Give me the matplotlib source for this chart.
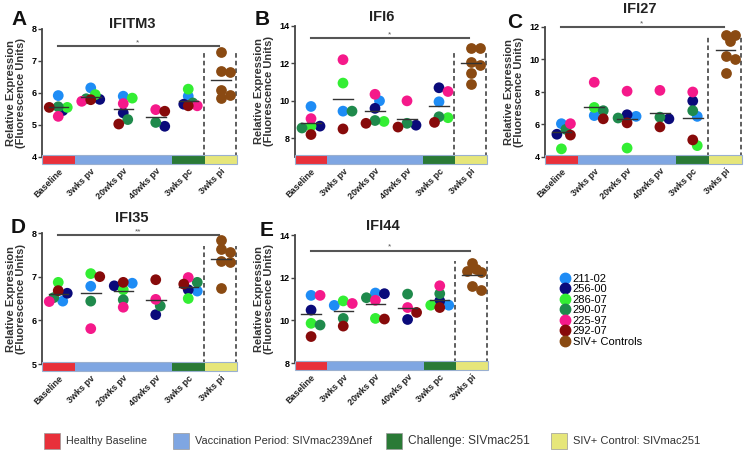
import numpy as np
import matplotlib.pyplot as plt
from matplotlib.patches import Rectangle
from matplotlib.lines import Line2D

plt.rcParams['font.family'] = ['Liberation Sans', 'DejaVu Sans']

# categories
groups = ['Baseline', '3wks pv', '20wks pv', '40wks pv', '3wks pc', '3wks pi']
animals = ['211-02', '256-00', '286-07', '290-07', '225-97', '292-07']
animal_colors = ['#1e8cf5', '#0a0a7a', '#33ee33', '#1f8a4c', '#f5198a', '#870a0a']
control_color = '#8a4a12'
nan = np.nan

# rows = animals, cols = first five groups
ifitm3 = [[5.92, 6.16, 5.90, nan, 5.90],
          [5.45, 5.80, 5.38, 4.96, 5.65],
          [5.55, 5.95, 5.84, nan, 6.12],
          [5.57, 5.82, 5.17, 5.08, 5.69],
          [5.27, 5.74, 5.67, 5.48, 5.60],
          [5.55, 5.79, 5.03, 5.43, 5.60]]
ifitm3_ctrl = [7.28, 6.70, 6.65, 6.10, 5.95, 5.83]

ifi6 = [[9.70, 9.45, 10.00, nan, 9.95],
        [8.65, nan, 9.60, 8.70, 10.70],
        [8.65, 10.95, 8.90, nan, 9.10],
        [8.55, 9.45, 8.95, 8.80, 9.15],
        [9.05, 12.20, 10.35, 10.00, 10.50],
        [8.20, 8.50, 8.80, 8.60, 8.85]]
ifi6_ctrl = [12.80, 12.85, 12.05, 11.90, 11.50, 10.90]

ifi27 = [[6.05, 6.55, 6.50, nan, 6.50],
         [5.40, nan, 6.60, 6.35, 7.45],
         [4.50, 7.05, 4.55, nan, 4.70],
         [5.70, 6.85, 6.40, 6.45, 6.85],
         [6.05, 8.60, 8.05, 8.10, 8.00],
         [5.35, 6.35, 6.10, 5.85, 5.05]]
ifi27_ctrl = [11.50, 11.50, 11.15, 10.20, 10.00, 9.15]

ifi35 = [[6.44, 6.78, 6.85, nan, 6.67],
         [6.62, nan, 6.79, 6.13, 6.70],
         [6.87, 7.07, 6.70, nan, 6.50],
         [6.52, 6.44, 6.47, 6.33, 6.87],
         [6.43, 5.81, 6.30, 6.48, 6.98],
         [6.68, 7.00, 6.87, 6.93, 6.83]]
ifi35_ctrl = [7.84, 7.63, 7.56, 7.37, 7.33, 6.73]

ifi44 = [[11.17, 10.70, 11.28, nan, 10.71],
         [10.48, nan, 11.25, 10.04, 10.91],
         [9.86, 10.91, 10.09, nan, 10.71],
         [9.78, 10.09, 11.06, 11.23, 11.25],
         [11.17, 10.79, 10.94, 10.60, 11.62],
         [9.24, 9.73, 10.06, 10.37, 10.60]]
ifi44_ctrl = [12.70, 12.41, 12.33, 12.25, 11.59, 11.40]

genes = ['IFITM3', 'IFI6', 'IFI27', 'IFI35', 'IFI44']
letters = ['A', 'B', 'C', 'D', 'E']
stars = ['*', '*', '*', '**', '*']
ylims = [(4, 8), (7, 14), (4, 12), (5, 8), (8, 14)]
yticks = [[4, 5, 6, 7, 8], [8, 10, 12, 14], [4, 6, 8, 10, 12], [5, 6, 7, 8], [8, 10, 12, 14]]
sig_y = [7.47, 13.34, 12.0, 7.95, 13.26]
dash_top = [7.3, 12.6, 11.5, 7.7, 12.8]
panel_data = [ifitm3, ifi6, ifi27, ifi35, ifi44]
panel_ctrl = [ifitm3_ctrl, ifi6_ctrl, ifi27_ctrl, ifi35_ctrl, ifi44_ctrl]

band_colors = ['#e8303a', '#7fa6e2', '#7fa6e2', '#7fa6e2', '#2a7a36', '#e6e67a']
legend_labels = ['Healthy Baseline', 'Vaccination Period: SIVmac239\u0394nef',
                 'Challenge: SIVmac251', 'SIV+ Control: SIVmac251']
legend_colors = ['#e8303a', '#7fa6e2', '#2a7a36', '#e6e67a']

W, H = 750, 461
fig = plt.figure(figsize=(W / 100, H / 100), dpi=100)

# axes boxes in pixels: left, top, right, bottom
boxes = [(42, 29, 237, 157), (295, 26, 487, 157), (545, 27, 742, 157),
         (42, 233, 237, 364), (295, 235, 488, 363)]
title_pos = [(132, 24), (382, 17), (640, 9), (132, 218), (383, 226)]
letter_pos = [(11, 25), (255, 25), (507, 28), (11, 233), (260, 236)]


def swarm(vals, ppx, ppy, d=7.0):
    # small beeswarm dodge, offsets in data units
    vals = np.asarray(vals, float)
    offs = np.zeros(len(vals))
    placed = []
    cands = [0, 4.5, -4.5, 9, -9]
    for i in np.argsort(-vals):
        best, best_d = 0, -1
        for c in cands:
            md = min([np.hypot(c - a, (vals[i] - b) * ppy) for a, b in placed] + [99])
            if md >= d:
                best = c
                break
            if md > best_d:
                best, best_d = c, md
        offs[i] = best / ppx
        placed.append((best, vals[i]))
    return offs


for k in range(5):
    l, t, r, b = boxes[k]
    ax = fig.add_axes([l / W, 1 - b / H, (r - l) / W, (b - t) / H])
    y0, y1 = ylims[k]
    ax.set_xlim(-0.5, 5.5)
    ax.set_ylim(y0, y1)
    ppx = (r - l) / 6.0
    ppy = (b - t) / (y1 - y0)
    data = np.array(panel_data[k], float)

    for g in range(5):
        col = data[:, g]
        ok = ~np.isnan(col)
        offs = swarm(col[ok], ppx, ppy)
        cols = [c for c, o in zip(animal_colors, ok) if o]
        ax.scatter(g + offs, col[ok], s=60, c=cols, zorder=3, linewidths=0)
        m = col[ok].mean()
        ax.plot([g - 0.3, g + 0.3], [m, m], color='#333333', lw=1.0, zorder=4)

    ctrl = np.array(panel_ctrl[k], float)
    offs = swarm(ctrl, ppx, ppy)
    ax.scatter(5 + offs, ctrl, s=60, c=control_color, zorder=3, linewidths=0)
    m = ctrl.mean()
    ax.plot([4.7, 5.3], [m, m], color='#333333', lw=1.0, zorder=4)

    # dashed box around controls
    for xv in [4.47, 5.47]:
        ax.plot([xv, xv], [y0, dash_top[k]], ls=(0, (3, 2)), color='#333333', lw=1.1, zorder=2)

    # significance bar
    ax.plot([0, 4.95], [sig_y[k], sig_y[k]], color='#555555', lw=1.5, clip_on=False)
    ax.text(2.45, sig_y[k], stars[k], ha='center', va='bottom', fontsize=6, color='#555555')

    # coloured band along the x axis
    tr = ax.get_xaxis_transform()
    for g in range(6):
        ax.add_patch(Rectangle((g - 0.5, -0.055), 1, 0.07, transform=tr, color=band_colors[g],
                               clip_on=False, zorder=5, lw=0))
    ax.add_patch(Rectangle((-0.5, -0.055), 6, 0.07, transform=tr, fill=False,
                           edgecolor='#9ab0d0', lw=0.8, clip_on=False, zorder=6))

    for s in ['top', 'right', 'bottom']:
        ax.spines[s].set_visible(False)
    ax.spines['left'].set_color('#444444')
    ax.spines['left'].set_linewidth(1.3)
    ax.set_yticks(yticks[k])
    ax.tick_params(axis='y', labelsize=6.5, length=3, width=1, color='#444444', pad=1)
    for lab in ax.get_yticklabels():
        lab.set_fontweight('bold')
    ax.set_xticks(range(6))
    ax.set_xticklabels(groups, rotation=45, ha='right', rotation_mode='anchor',
                       fontsize=6.5, fontweight='bold', color='#222222')
    ax.tick_params(axis='x', length=0, pad=7)
    ax.set_ylabel('Relative Expression\n(Fluorescence Units)', fontsize=8, fontweight='bold',
                  color='#333333', labelpad=4, linespacing=1.0)

    fig.text(title_pos[k][0] / W, 1 - title_pos[k][1] / H, genes[k], ha='center', va='center',
             fontsize=10.5, fontweight='bold', color='#222222')
    fig.text(letter_pos[k][0] / W, 1 - letter_pos[k][1] / H, letters[k], fontsize=15,
             fontweight='bold', color='#111111')

# animal legend
handles = [Line2D([], [], marker='o', ls='', color=c, markersize=7.5) for c in animal_colors]
handles.append(Line2D([], [], marker='o', ls='', color=control_color, markersize=7.5))
fig.legend(handles, animals + ['SIV+ Controls'], loc='upper left',
           bbox_to_anchor=(555 / W, 1 - 268 / H), frameon=False, fontsize=8,
           handlelength=0.8, handletextpad=0.3, labelspacing=0.05, borderpad=0)

# period legend at the bottom
patch_x = [44, 173, 386, 551]
label_size = [7.7, 7.9, 8.6, 8.0]
for px, lab, c, fs in zip(patch_x, legend_labels, legend_colors, label_size):
    fig.patches.append(Rectangle((px / W, 1 - 449 / H), 16 / W, 16 / H, transform=fig.transFigure,
                                 facecolor=c, edgecolor='#999999', lw=0.5))
    fig.text((px + 22) / W, 1 - 441 / H, lab, va='center', fontsize=fs, color='#333333')

fig.savefig('out.png', dpi=100)
